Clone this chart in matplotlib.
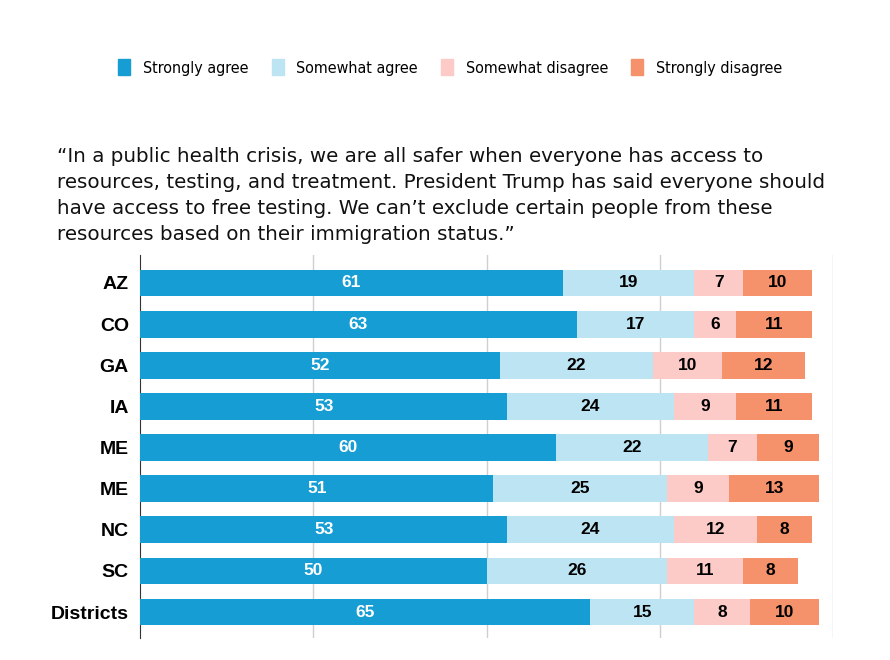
import matplotlib
matplotlib.use("Agg")
from matplotlib import pyplot as plt
from matplotlib.patches import Patch
import numpy as np

states = ["AZ", "CO", "GA", "IA", "ME", "ME", "NC", "SC", "Districts"]
strongly_agree = [61, 63, 52, 53, 60, 51, 53, 50, 65]
somewhat_agree = [19, 17, 22, 24, 22, 25, 24, 26, 15]
somewhat_disagree = [7, 6, 10, 9, 7, 9, 12, 11, 8]
strongly_disagree = [10, 11, 12, 11, 9, 13, 8, 8, 10]

series = [
    ("Strongly agree", strongly_agree, "#169dd3", "white"),
    ("Somewhat agree", somewhat_agree, "#bde4f3", "black"),
    ("Somewhat disagree", somewhat_disagree, "#fccbc7", "black"),
    ("Strongly disagree", strongly_disagree, "#f5916b", "black"),
]

question = ("\u201cIn a public health crisis, we are all safer when everyone has access to\n"
            "resources, testing, and treatment. President Trump has said everyone should\n"
            "have access to free testing. We can\u2019t exclude certain people from these\n"
            "resources based on their immigration status.\u201d")

fig = plt.figure(figsize=(8.9, 6.6), dpi=100)
ax = fig.add_axes([0.1573, 0.0333, 0.7787, 0.5803])

y = np.arange(len(states))
left = np.zeros(len(states))
for name, vals, color, tcolor in series:
    vals = np.array(vals)
    ax.barh(y, vals, left=left, height=0.65, color=color, label=name, zorder=3)
    for yi, l, v in zip(y, left, vals):
        ax.text(l + v / 2, yi, str(v), ha="center", va="center", color=tcolor,
                fontsize=12.5, fontweight="bold", family="Liberation Sans", zorder=4)
    left = left + vals

ax.set_xlim(0, 100)
ax.set_ylim(8.63, -0.68)
ax.set_yticks(y)
ax.set_yticklabels(states, fontsize=14, fontweight="bold", family="Liberation Sans")
ax.set_xticks([25, 50, 75, 100])
ax.xaxis.grid(True, color="#cfcfcf", linewidth=1, zorder=0)
ax.tick_params(axis="both", length=0)
ax.tick_params(axis="y", pad=8)
ax.set_xticklabels([])
for s in ["top", "right", "bottom"]:
    ax.spines[s].set_visible(False)
ax.spines["left"].set_color("#333333")

fig.text(0.064, 0.777, question, ha="left", va="top", fontsize=14.3,
         linespacing=1.46, color="#111111")

handles = [Patch(color=c, label=n) for n, _, c, _ in series]
fig.legend(handles=handles, loc="center", bbox_to_anchor=(0.506, 0.898), ncol=4,
           frameon=False, prop={"family": "DejaVu Sans", "stretch": "condensed", "size": 11.5},
           handlelength=0.75, handleheight=1.2, handletextpad=0.8, columnspacing=1.45)

plt.savefig("out.png", dpi=100)
